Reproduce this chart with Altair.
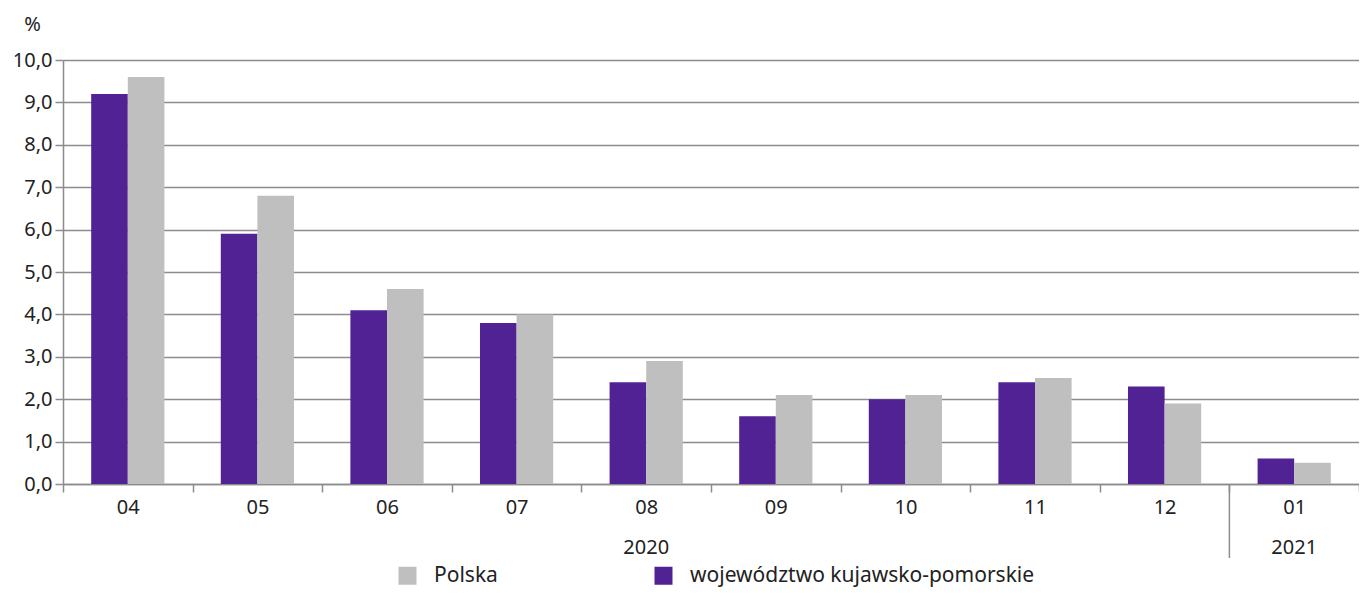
import altair as alt
import pandas as pd

months = ["04", "05", "06", "07", "08", "09", "10", "11", "12", "01"]
region_vals = [9.2, 5.9, 4.1, 3.8, 2.4, 1.6, 2.0, 2.4, 2.3, 0.6]
poland_vals = [9.6, 6.8, 4.6, 4.0, 2.9, 2.1, 2.1, 2.5, 1.9, 0.5]
series_names = ["Polska", "województwo kujawsko-pomorskie"]
year_labels = ["2020", "2021"]
year_anchor = ["08", "01"]
y_ticks = [0, 1, 2, 3, 4, 5, 6, 7, 8, 9, 10]

FONT = "Noto Sans"
PURPLE = "#512294"
GREY = "#bfbfbf"
AXIS_GREY = "#8c8c8c"
TEXT = "#222222"
FS = 20

rows = []
for m, r, p in zip(months, region_vals, poland_vals):
    rows.append({"month": m, "series": series_names[1], "value": r})
    rows.append({"month": m, "series": series_names[0], "value": p})
df = pd.DataFrame(rows)
years_df = pd.DataFrame({"month": year_anchor, "year": year_labels})
sep_df = pd.DataFrame({"month": ["01"]})

W = 1296
H = 424

x_scale = alt.Scale(domain=months, paddingInner=0, paddingOuter=0)

bars = alt.Chart(df).mark_bar().encode(
    x=alt.X("month:N", scale=x_scale, sort=months, title=None,
            axis=alt.Axis(tickBand="extent", labelAngle=0, labelFontSize=FS,
                          labelFont=FONT, labelColor=TEXT, tickSize=8, labelPadding=5,
                          domainColor=AXIS_GREY, tickColor=AXIS_GREY,
                          domainWidth=1.5, tickWidth=1.5, grid=False)),
    xOffset=alt.XOffset("series:N", sort=[series_names[1], series_names[0]],
                        scale=alt.Scale(paddingOuter=0.77, paddingInner=0)),
    y=alt.Y("value:Q", scale=alt.Scale(domain=[0, 10], nice=False),
            axis=alt.Axis(values=y_ticks, title="%", titleAngle=0, titleX=-31, titleY=-30,
                          titleAlign="center", titleBaseline="alphabetic",
                          titleFontWeight="normal", titleFontSize=FS, titleFont=FONT,
                          titleColor=TEXT,
                          labelExpr="replace(format(datum.value, '.1f'), '.', ',')",
                          labelFontSize=FS, labelFont=FONT, labelColor=TEXT,
                          tickSize=8, labelPadding=3, tickColor=AXIS_GREY,
                          domainColor=AXIS_GREY, domainWidth=1.5, tickWidth=1.5,
                          gridColor=AXIS_GREY, gridWidth=1.5)),
    color=alt.Color("series:N", scale=alt.Scale(domain=series_names, range=[GREY, PURPLE]),
                    legend=alt.Legend(title=None, orient="none", legendX=334, legendY=505,
                                      direction="horizontal", columns=2, columnPadding=155,
                                      symbolType="square", symbolSize=324,
                                      symbolStrokeWidth=0, labelFontSize=21, labelFont=FONT,
                                      labelColor=TEXT, labelOffset=16, labelLimit=0,
                                      padding=0)),
)

year_text = alt.Chart(years_df).mark_text(fontSize=FS, font=FONT, color=TEXT,
                                          baseline="middle").encode(
    x=alt.X("month:N", scale=x_scale, sort=months),
    y=alt.value(H + 64),
    text="year:N",
)

sep = alt.Chart(sep_df).mark_rule(color=AXIS_GREY, strokeWidth=1.5).encode(
    x=alt.X("month:N", scale=x_scale, sort=months, bandPosition=0),
    y=alt.value(H),
    y2=alt.value(H + 74),
)

chart = alt.layer(bars, year_text, sep).properties(
    width=W, height=H,
    autosize=alt.AutoSizeParams(type="none"),
    padding={"left": 55, "top": 52, "right": 0, "bottom": 106},
).configure_view(stroke=None).configure(font=FONT)

chart.save("out.html", embed_options={"renderer": "svg", "actions": False})
